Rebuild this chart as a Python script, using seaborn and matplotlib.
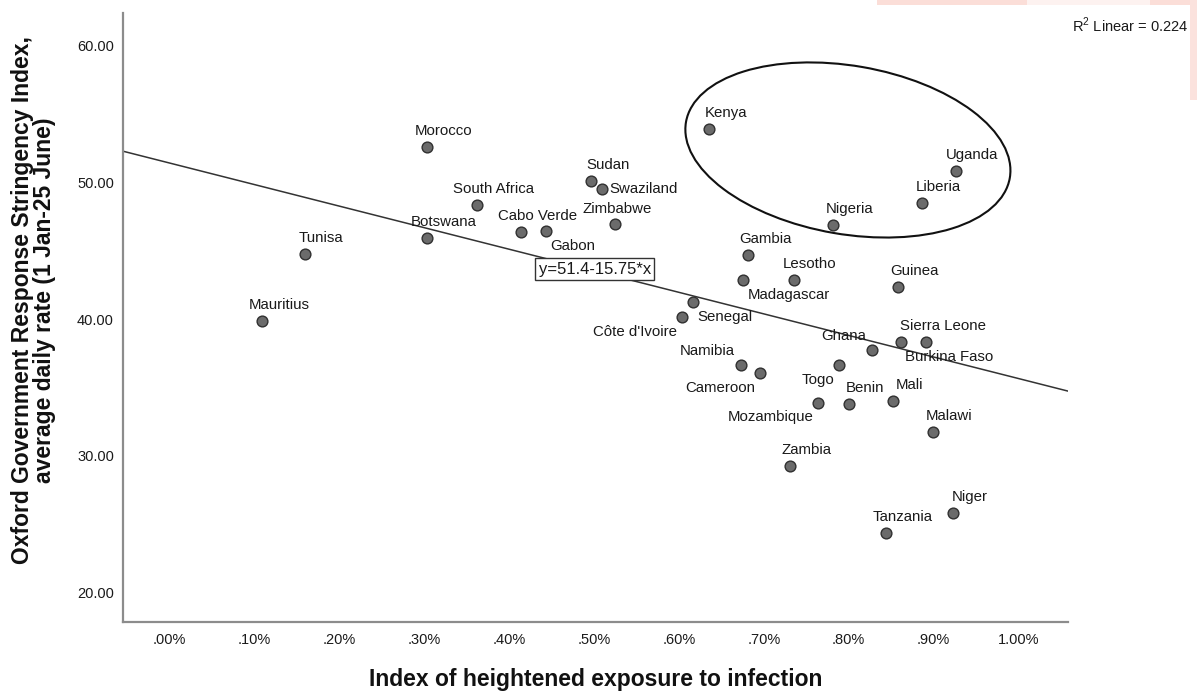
import numpy as np
import pandas as pd
import seaborn as sns
import matplotlib.pyplot as plt
import matplotlib.transforms as mtransforms
from matplotlib.patches import Ellipse, Rectangle
from matplotlib.ticker import FuncFormatter

# data (x is in percent units)
countries = ["Mauritius", "Tunisa", "Morocco", "Botswana", "South Africa",
             "Cabo Verde", "Gabon", "Sudan", "Swaziland", "Zimbabwe",
             "Côte d'Ivoire", "Senegal", "Kenya", "Namibia", "Madagascar",
             "Gambia", "Cameroon", "Zambia", "Lesotho", "Mozambique",
             "Nigeria", "Togo", "Benin", "Ghana", "Tanzania",
             "Mali", "Guinea", "Burkina Faso", "Liberia", "Sierra Leone",
             "Malawi", "Niger", "Uganda"]
exposure = [0.110, 0.160, 0.304, 0.304, 0.362,
            0.414, 0.444, 0.497, 0.510, 0.525,
            0.604, 0.617, 0.636, 0.673, 0.676,
            0.682, 0.696, 0.731, 0.735, 0.764,
            0.782, 0.789, 0.800, 0.827, 0.844,
            0.852, 0.858, 0.861, 0.886, 0.891,
            0.899, 0.923, 0.926]
stringency = [39.85, 44.74, 52.58, 45.89, 48.32,
              46.35, 46.45, 50.07, 49.47, 46.93,
              40.12, 41.26, 53.87, 36.62, 42.85,
              44.67, 36.04, 29.29, 42.85, 33.89,
              46.86, 36.64, 33.80, 37.74, 24.36,
              34.01, 42.31, 38.34, 48.49, 38.34,
              31.77, 25.86, 50.83]

fit_intercept = 51.4
fit_slope = -15.75
r_squared = 0.224

x_ticks = [0.0, 0.1, 0.2, 0.3, 0.4, 0.5, 0.6, 0.7, 0.8, 0.9, 1.0]
y_ticks = [20, 30, 40, 50, 60]

# label placement (pixels): ha, dx, dy (dy down)
placements = {
    'ur': ('center', 16.5, -16),
    'br': ('left', 4, 15),
    'bl': ('right', -5, 14.5),
    'al': ('right', -6, -14),
    'r': ('left', 7, 0),
    'a': ('center', 1.7, -14.7),
}
label_mode = {"Gabon": 'br', "Madagascar": 'br', "Senegal": 'br', "Burkina Faso": 'br',
              "Côte d'Ivoire": 'bl', "Cameroon": 'bl', "Togo": 'bl', "Mozambique": 'bl',
              "Ghana": 'al', "Namibia": 'al', "Swaziland": 'r', "Zimbabwe": 'a'}

sns.set_theme(style='white')
plt.rcParams['font.family'] = ['Liberation Sans', 'DejaVu Sans']
plt.rcParams['mathtext.fontset'] = 'custom'
plt.rcParams['mathtext.rm'] = 'Liberation Sans'

W, H = 1197, 693
fig = plt.figure(figsize=(W / 100, H / 100), dpi=100)
ax = fig.add_axes([123 / W, 1 - 622 / H, (1068 - 123) / W, (622 - 13) / H])

# faint pink watermark bits in the top right corner
for x0, y0, w, h, c in [(877, 0, 150, 5, '#fbded8'), (1027, 0, 123, 5, '#fdf2f0'),
                        (1150, 0, 47, 5, '#fbded8'), (1190, 0, 7, 100, '#fbe2dd')]:
    fig.patches.append(Rectangle((x0 / W, 1 - (y0 + h) / H), w / W, h / H,
                                 transform=fig.transFigure, color=c, lw=0, zorder=0))

df = pd.DataFrame({'country': countries, 'exposure': exposure, 'stringency': stringency})

sns.scatterplot(data=df, x='exposure', y='stringency', ax=ax, s=60,
                color='#6b6b6b', edgecolor='#303030', linewidth=1, zorder=3)

ax.set_xlim(-0.054, 1.058)
ax.set_ylim(17.88, 62.34)

ax.axline((0, fit_intercept), slope=fit_slope, color='#333333', lw=1.1, zorder=2)

for name, xv, yv in zip(df['country'], df['exposure'], df['stringency']):
    ha, dx, dy = placements[label_mode.get(name, 'ur')]
    ax.annotate(name, (xv, yv), xytext=(dx * 0.72, -dy * 0.72), textcoords='offset points',
                ha=ha, va='center', fontsize=10.8, color='#1a1a1a', zorder=4)

ax.text(0.501, 43.65, f"y={fit_intercept}{fit_slope}*x", ha='center', va='center',
        fontsize=12, color='#1a1a1a', zorder=5,
        bbox=dict(boxstyle='square,pad=0.22', fc='white', ec='#333333', lw=1))

# highlighted group
cx, cy = 0.799, 52.34
trans = fig.dpi_scale_trans + mtransforms.ScaledTranslation(cx, cy, ax.transData)
ax.add_patch(Ellipse((0, 0), 3.286, 1.684, angle=-9.8, transform=trans,
                     fill=False, ec='#111111', lw=1.5, zorder=2))

ax.set_xticks(x_ticks)
ax.set_yticks(y_ticks)
ax.xaxis.set_major_formatter(FuncFormatter(lambda v, p: f"{v:.2f}%".lstrip('0') if v < 1 else f"{v:.2f}%"))
ax.yaxis.set_major_formatter(FuncFormatter(lambda v, p: f"{v:.2f}"))
ax.tick_params(axis='both', length=0, labelsize=10.5, colors='#1a1a1a')
ax.tick_params(axis='x', pad=8)
ax.tick_params(axis='y', pad=6.5)

for s in ['top', 'right']:
    ax.spines[s].set_visible(False)
for s in ['left', 'bottom']:
    ax.spines[s].set_color('#8c8c8c')
    ax.spines[s].set_linewidth(1.6)

ax.set_xlabel("Index of heightened exposure to infection", fontsize=16.5, fontweight='bold', color='#111111')
ax.set_ylabel("Oxford Government Response Stringency Index,\naverage daily rate (1 Jan-25 June)",
              fontsize=16.5, fontweight='bold', color='#111111', linespacing=0.92)
ax.xaxis.label.set_va('center')
ax.xaxis.set_label_coords(0.5, -0.095)
ax.yaxis.label.set_va('center')
ax.yaxis.label.set_ha('center')
ax.yaxis.set_label_coords(-0.0947, 0.529)

fig.text(1188 / W, 1 - 25 / H, rf"R$^2$ Linear = {r_squared}", ha='right', va='center',
         fontsize=10.5, color='#1a1a1a')

fig.savefig('out.png', dpi=100)
plt.close(fig)
